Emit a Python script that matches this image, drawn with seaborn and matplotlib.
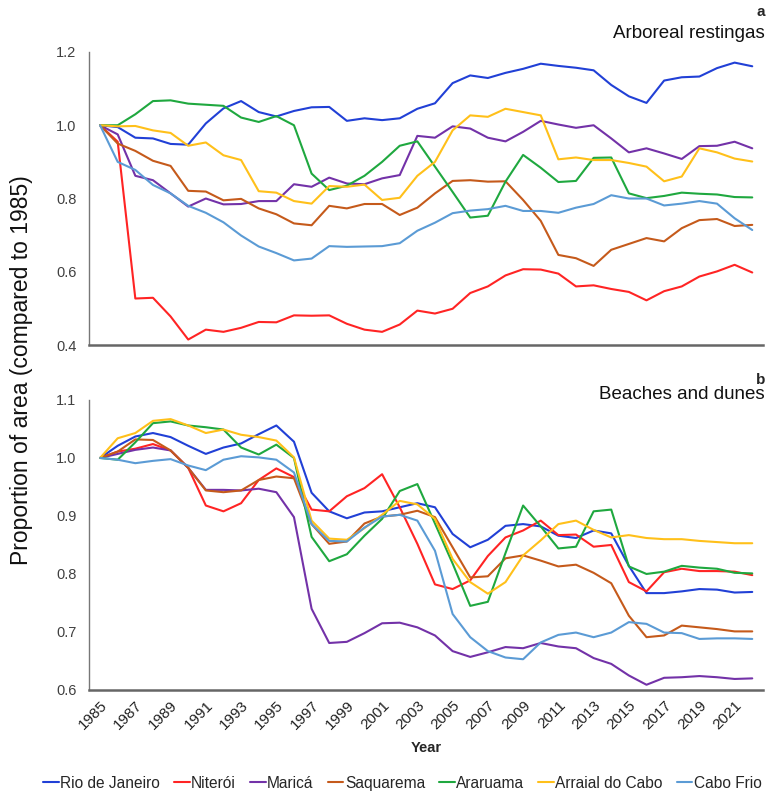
import numpy as np
import pandas as pd
import seaborn as sns
import matplotlib
matplotlib.use("Agg")
import matplotlib.pyplot as plt

# years and municipalities
years = list(range(1985, 2023))
places = ["Rio de Janeiro", "Niterói", "Maricá", "Saquarema", "Araruama", "Arraial do Cabo", "Cabo Frio"]
colors = ["#2140D6", "#FF2424", "#7332A8", "#C55A1B", "#1FA83F", "#FFC01A", "#5B9BD5"]

# panel a - arboreal restingas
rio_a = [1.0, 0.995, 0.966, 0.964, 0.949, 0.947, 1.005, 1.046, 1.066, 1.036, 1.024, 1.039, 1.049, 1.05,
         1.012, 1.019, 1.014, 1.019, 1.045, 1.06, 1.115, 1.136, 1.129, 1.143, 1.154, 1.168, 1.162, 1.157,
         1.15, 1.11, 1.079, 1.061, 1.122, 1.131, 1.133, 1.156, 1.171, 1.161]
niteroi_a = [1.0, 0.955, 0.527, 0.529, 0.478, 0.415, 0.442, 0.436, 0.447, 0.463, 0.462, 0.481, 0.48, 0.481,
             0.458, 0.442, 0.436, 0.456, 0.494, 0.486, 0.499, 0.542, 0.56, 0.59, 0.607, 0.606, 0.595, 0.56,
             0.563, 0.553, 0.545, 0.522, 0.547, 0.56, 0.587, 0.601, 0.619, 0.598]
marica_a = [1.0, 0.975, 0.862, 0.85, 0.814, 0.778, 0.80, 0.784, 0.785, 0.793, 0.793, 0.839, 0.832, 0.857,
            0.841, 0.839, 0.855, 0.864, 0.971, 0.966, 0.997, 0.991, 0.966, 0.956, 0.982, 1.012, 1.002, 0.993,
            1.0, 0.964, 0.926, 0.937, 0.923, 0.908, 0.943, 0.944, 0.955, 0.937]
saquarema_a = [1.0, 0.95, 0.93, 0.903, 0.889, 0.821, 0.819, 0.795, 0.799, 0.773, 0.757, 0.732, 0.727, 0.78,
               0.773, 0.785, 0.785, 0.755, 0.775, 0.814, 0.848, 0.85, 0.846, 0.847, 0.796, 0.739, 0.646, 0.637,
               0.616, 0.66, 0.676, 0.692, 0.683, 0.719, 0.741, 0.744, 0.725, 0.728]
araruama_a = [1.0, 1.0, 1.03, 1.066, 1.068, 1.059, 1.056, 1.053, 1.021, 1.009, 1.025, 1.0, 0.868, 0.823,
              0.835, 0.862, 0.9, 0.944, 0.956, 0.887, 0.818, 0.748, 0.753, 0.846, 0.919, 0.884, 0.845, 0.848,
              0.911, 0.912, 0.814, 0.801, 0.807, 0.816, 0.813, 0.811, 0.804, 0.803]
arraial_a = [1.0, 0.997, 0.998, 0.986, 0.979, 0.944, 0.953, 0.918, 0.905, 0.82, 0.816, 0.793, 0.786, 0.834,
             0.832, 0.838, 0.796, 0.802, 0.862, 0.90, 0.986, 1.027, 1.023, 1.045, 1.036, 1.027, 0.907, 0.912,
             0.905, 0.905, 0.897, 0.887, 0.847, 0.86, 0.937, 0.926, 0.909, 0.901]
cabofrio_a = [1.0, 0.90, 0.878, 0.837, 0.814, 0.78, 0.761, 0.735, 0.699, 0.669, 0.651, 0.631, 0.636, 0.67,
              0.668, 0.669, 0.67, 0.678, 0.712, 0.734, 0.76, 0.767, 0.771, 0.78, 0.766, 0.766, 0.761, 0.775,
              0.785, 0.809, 0.80, 0.80, 0.781, 0.786, 0.793, 0.786, 0.746, 0.714]

# panel b - beaches and dunes
rio_b = [1.0, 1.021, 1.037, 1.043, 1.036, 1.021, 1.007, 1.018, 1.025, 1.041, 1.056, 1.028, 0.940, 0.908,
         0.896, 0.906, 0.908, 0.915, 0.922, 0.915, 0.869, 0.846, 0.859, 0.883, 0.886, 0.882, 0.866, 0.862,
         0.875, 0.87, 0.814, 0.767, 0.767, 0.77, 0.774, 0.773, 0.768, 0.769]
niteroi_b = [1.0, 1.011, 1.016, 1.024, 1.013, 0.983, 0.918, 0.908, 0.922, 0.962, 0.982, 0.967, 0.911, 0.908,
             0.934, 0.948, 0.972, 0.915, 0.852, 0.782, 0.774, 0.789, 0.831, 0.863, 0.875, 0.892, 0.867, 0.868,
             0.847, 0.85, 0.786, 0.77, 0.803, 0.809, 0.805, 0.805, 0.804, 0.798]
marica_b = [1.0, 1.007, 1.014, 1.018, 1.013, 0.983, 0.945, 0.945, 0.944, 0.947, 0.941, 0.898, 0.74, 0.681,
            0.683, 0.698, 0.715, 0.716, 0.708, 0.694, 0.667, 0.657, 0.665, 0.674, 0.672, 0.681, 0.675, 0.672,
            0.655, 0.645, 0.625, 0.609, 0.621, 0.622, 0.624, 0.622, 0.619, 0.62]
saquarema_b = [1.0, 1.011, 1.032, 1.031, 1.013, 0.983, 0.944, 0.941, 0.944, 0.962, 0.968, 0.965, 0.886, 0.852,
               0.856, 0.887, 0.899, 0.902, 0.909, 0.898, 0.846, 0.794, 0.796, 0.827, 0.832, 0.823, 0.813, 0.816,
               0.802, 0.784, 0.728, 0.691, 0.694, 0.711, 0.708, 0.705, 0.701, 0.701]
araruama_b = [1.0, 0.997, 1.027, 1.06, 1.063, 1.056, 1.053, 1.049, 1.018, 1.006, 1.023, 1.0, 0.864, 0.822,
              0.834, 0.866, 0.895, 0.943, 0.955, 0.887, 0.818, 0.745, 0.752, 0.836, 0.918, 0.882, 0.844, 0.847,
              0.908, 0.911, 0.813, 0.80, 0.804, 0.814, 0.811, 0.809, 0.802, 0.801]
arraial_b = [1.0, 1.034, 1.043, 1.064, 1.067, 1.056, 1.043, 1.049, 1.04, 1.036, 1.03, 1.001, 0.892, 0.861,
             0.859, 0.879, 0.902, 0.926, 0.92, 0.895, 0.826, 0.786, 0.766, 0.786, 0.832, 0.858, 0.886, 0.892,
             0.876, 0.863, 0.867, 0.862, 0.86, 0.86, 0.857, 0.855, 0.853, 0.853]
cabofrio_b = [1.0, 0.997, 0.991, 0.995, 0.998, 0.987, 0.979, 0.997, 1.003, 1.001, 0.997, 0.975, 0.886, 0.857,
              0.856, 0.88, 0.899, 0.902, 0.892, 0.84, 0.731, 0.691, 0.667, 0.656, 0.653, 0.682, 0.695, 0.699,
              0.691, 0.699, 0.717, 0.714, 0.699, 0.698, 0.688, 0.689, 0.689, 0.688]

year_ticks = list(range(1985, 2022, 2))


def long_table(series):
    frames = []
    for name, vals in zip(places, series):
        frames.append(pd.DataFrame({"Year": years, "Proportion": vals, "Municipality": name}))
    return pd.concat(frames, ignore_index=True)


df_a = long_table([rio_a, niteroi_a, marica_a, saquarema_a, araruama_a, arraial_a, cabofrio_a])
df_b = long_table([rio_b, niteroi_b, marica_b, saquarema_b, araruama_b, arraial_b, cabofrio_b])

sns.set_style("white")
plt.rcParams["font.family"] = ["Liberation Sans", "DejaVu Sans"]
palette = dict(zip(places, colors))

fig = plt.figure(figsize=(7.71, 7.95), dpi=100)
ax_a = fig.add_axes([0.1154, 0.566, 0.874, 0.3686])
ax_b = fig.add_axes([0.1154, 0.1321, 0.874, 0.3648])

sns.lineplot(data=df_a, x="Year", y="Proportion", hue="Municipality", palette=palette,
             linewidth=1.5, ax=ax_a, legend=False)
sns.lineplot(data=df_b, x="Year", y="Proportion", hue="Municipality", palette=palette,
             linewidth=1.5, ax=ax_b, legend=True)

for ax, lims, step in [(ax_a, (0.4, 1.2), 0.2), (ax_b, (0.6, 1.1), 0.1)]:
    ax.set_xlim(1984.37, 2022.6)
    ax.set_ylim(*lims)
    ticks = np.arange(lims[0], lims[1] + 0.001, step)
    ax.set_yticks(ticks)
    ax.set_yticklabels([f"{v:.1f}" for v in ticks], fontsize=10.5, color="#404040")
    ax.tick_params(axis="both", length=0, pad=9)
    for s in ["top", "right"]:
        ax.spines[s].set_visible(False)
    ax.spines["left"].set_color("#777777")
    ax.spines["left"].set_linewidth(1.0)
    ax.spines["bottom"].set_color("#666666")
    ax.spines["bottom"].set_linewidth(1.8)
    ax.set_ylabel("")

ax_a.set_xticks(year_ticks)
ax_a.set_xticklabels([])
ax_a.set_xlabel("")

ax_b.set_xticks(year_ticks)
ax_b.set_xticklabels([str(y) for y in year_ticks], rotation=45, ha="right",
                     rotation_mode="anchor", fontsize=11, color="#222222")
ax_b.tick_params(axis="x", pad=6)
ax_b.set_xlabel("Year", fontsize=10.5, fontweight="bold", labelpad=6)

# panel labels
fig.text(0.992, 0.985, "a", ha="right", va="center", fontsize=11, fontweight="bold")
fig.text(0.992, 0.958, "Arboreal restingas", ha="right", va="center", fontsize=13.5, color="#111111")
fig.text(0.992, 0.522, "b", ha="right", va="center", fontsize=11, fontweight="bold")
fig.text(0.992, 0.504, "Beaches and dunes", ha="right", va="center", fontsize=13.5, color="#111111")

fig.text(0.028, 0.535, "Proportion of area (compared to 1985)", rotation=90,
         ha="center", va="center", fontsize=16.5, color="#111111")

handles, labels = ax_b.get_legend_handles_labels()
ax_b.get_legend().remove()
fig.legend(handles, labels, loc="center", bbox_to_anchor=(0.522, 0.015), ncol=7, frameon=False,
           handlelength=1.0, handletextpad=0.1, columnspacing=0.9,
           prop={"size": 11.2})

fig.savefig("out.png", dpi=100)
